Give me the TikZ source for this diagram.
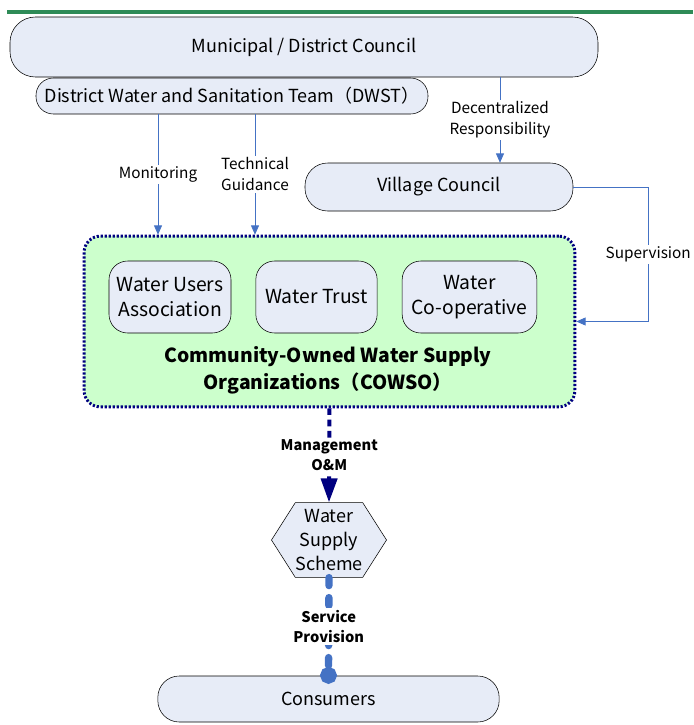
\documentclass[tikz,border=0pt]{standalone}
\usepackage{fontspec}
\setmainfont{Noto Sans CJK JP}
\usetikzlibrary{arrows.meta, positioning, shapes.symbols, calc}

\definecolor{boxblue}{RGB}{231,236,247}
\definecolor{cowsogreen}{RGB}{204,255,204}
\definecolor{linkblue}{RGB}{68,114,196}
\definecolor{rulegreen}{RGB}{46,139,87}
\definecolor{deepnavy}{RGB}{0,0,128}

\begin{document}
\begin{tikzpicture}[
    x=0.75pt, y=-0.75pt,
    body/.style={rectangle, draw, fill=boxblue, align=center, inner sep=1pt, font=\fontsize{13.5}{18.5}\selectfont},
    member/.style={body, minimum height=54pt, rounded corners=14pt, font=\fontsize{14.5}{18.75}\selectfont},
    flow/.style={-{Triangle[length=7pt,width=6pt]}, draw=linkblue, line width=0.6pt},
    mgmt/.style={-{Triangle[length=18pt,width=12pt]}, draw=deepnavy, line width=3pt, dash pattern=on 5pt off 3.5pt},
    service/.style={-{Circle[length=12.5pt]}, draw=linkblue, line width=5.5pt, line cap=round, dash pattern=on 6pt off 9pt},
    tag/.style={fill=white, align=center, inner sep=1.5pt, font=\fontsize{11.5}{15.75}\selectfont},
    boldtag/.style={tag, font=\fontsize{11}{15}\selectfont\bfseries}
]
\useasboundingbox (0,0) rectangle (693,725);

% Rule across the top
\draw[rulegreen, line width=2.5pt] (7,12) -- (693,12);

% Council level
\node[body, minimum width=441pt, minimum height=45pt, rounded corners=19pt] (mdc) at (304,47) {Municipal / District Council};
\node[body, minimum width=294pt, minimum height=27pt, rounded corners=13pt] (dwst) at (232,96) {District Water and Sanitation Team（DWST）};
\node[body, minimum width=201pt, minimum height=36pt, rounded corners=17pt] (vc) at (439,187) {Village Council};

% COWSO group
\node[draw=deepnavy, fill=cowsogreen, line width=2.2pt, dash pattern=on 1.6pt off 1.4pt, rounded corners=12pt,
      minimum width=368pt, minimum height=128pt] (cowso) at (329.5,321.5) {};
\node[member, minimum width=91.5pt] (wua) at (170,297) {Water Users\\Association};
\node[member, minimum width=91pt] (wt) at (316.5,297) {Water Trust};
\node[member, minimum width=101pt] (wc) at (469.5,297) {Water\\Co-operative};
\node[align=center, font=\fontsize{14.5}{20}\selectfont\bfseries] (cowsotitle) at (328,370) {Community-Owned Water Supply\\Organizations（COWSO）};

% Scheme and consumers
\node[body, signal, signal to=west and east, signal pointer angle=115, minimum width=84pt, minimum height=56pt,
      inner xsep=0pt, inner ysep=0pt, font=\fontsize{13.5}{18}\selectfont] (wss) at (329,540) {Water\\Supply\\Scheme};
\node[body, minimum width=256pt, minimum height=34.5pt, rounded corners=16pt] (cons) at (328.5,699) {Consumers};

% Arrows
\coordinate (mon) at (158,0);
\coordinate (tech) at (255,0);
\coordinate (dec) at (500,0);
\draw[flow] (dwst.south -| mon) -- node[tag] {Monitoring} (cowso.north -| mon);
\draw[flow] (dwst.south -| tech) -- node[tag] {Technical\\Guidance} (cowso.north -| tech);
\draw[flow] (mdc.south -| dec) -- node[tag] {Decentralized\\Responsibility} (vc.north -| dec);
\draw[flow] (vc.east) -- ++(75,0) |- node[tag, pos=0.25] {Supervision} (cowso.east);
\draw[mgmt] (cowso.south) -- node[boldtag] {Management\\O\&M} (wss.north);
\draw[service, shorten >=-6pt] (wss.south) -- node[boldtag] {Service\\Provision} (cons.north);

\end{tikzpicture}
\end{document}
